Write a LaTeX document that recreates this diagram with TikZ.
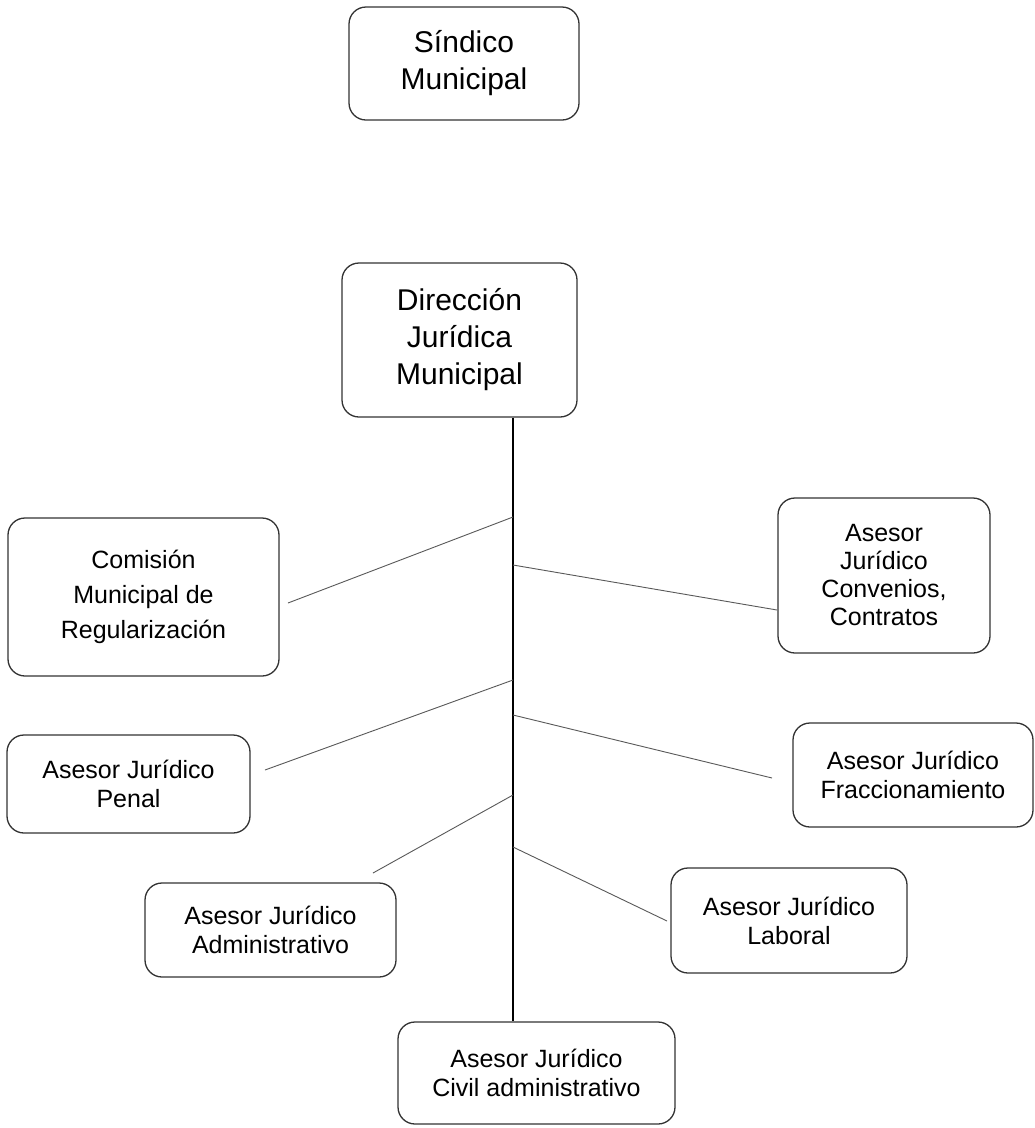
\documentclass[tikz,border=0pt]{standalone}
\usepackage{fontspec}
\setmainfont{Liberation Sans}
\begin{document}
\begin{tikzpicture}[x=1pt,y=-1pt,
  box/.style={draw=black!80, line width=1.3pt, rounded corners=17pt, inner sep=0pt,
    align=center, text=black, font=\fontsize{25}{29}\selectfont},
  bigtext/.style={font=\fontsize{30}{37}\selectfont},
  midtext/.style={font=\fontsize{25}{35}\selectfont},
  trunk/.style={black, line width=1.2pt},
  branch/.style={black!65, line width=0.9pt}]
\fill[white] (0,0) rectangle (1035,1128);
\useasboundingbox (0,0) rectangle (1035,1128);

% boxes
\node[box, bigtext, minimum width=230pt, minimum height=113pt] (sind) at (464,63.5) {Síndico\\Municipal};
\node[box, bigtext, minimum width=235pt, minimum height=154pt] (dir) at (459.5,340) {Dirección\\Jurídica\\Municipal};
\node[box, midtext, minimum width=271pt, minimum height=158pt] (com) at (143.5,597) {Comisión\\Municipal de\\Regularización};
\node[box, font=\fontsize{25}{28}\selectfont, minimum width=212pt, minimum height=155pt] (conv) at (884,575.5) {Asesor\\Jurídico\\Convenios,\\Contratos};
\node[box, minimum width=243pt, minimum height=98pt] (pen) at (128.5,784) {Asesor Jurídico\\Penal};
\node[box, minimum width=240pt, minimum height=104pt] (frac) at (913,775) {Asesor Jurídico\\Fraccionamiento};
\node[box, minimum width=251pt, minimum height=94pt] (adm) at (270.5,930) {Asesor Jurídico\\Administrativo};
\node[box, minimum width=236pt, minimum height=105pt] (lab) at (789,920.5) {Asesor Jurídico\\Laboral};
\node[box, minimum width=277pt, minimum height=102pt] (civ) at (536.5,1073) {Asesor Jurídico\\Civil administrativo};

% trunk
\coordinate (tx) at (513,0);
\draw[trunk] (dir.south -| tx) -- (civ.north -| tx);

% branch points on the trunk
\coordinate (bcom)  at (513,517);
\coordinate (bconv) at (513,565);
\coordinate (bpen)  at (513,680);
\coordinate (bfrac) at (513,715);
\coordinate (badm)  at (513,795);
\coordinate (blab)  at (513,847);

% free ends near boxes
\coordinate (ecom)  at (288,603);
\coordinate (econv) at (777,610);
\coordinate (epen)  at (265,770);
\coordinate (efrac) at (772,778);
\coordinate (eadm)  at (373,873);
\coordinate (elab)  at (667,921);

\draw[branch] (bcom) -- (ecom);
\draw[branch] (bconv) -- (econv);
\draw[branch] (bpen) -- (epen);
\draw[branch] (bfrac) -- (efrac);
\draw[branch] (badm) -- (eadm);
\draw[branch] (blab) -- (elab);
\end{tikzpicture}
\end{document}
